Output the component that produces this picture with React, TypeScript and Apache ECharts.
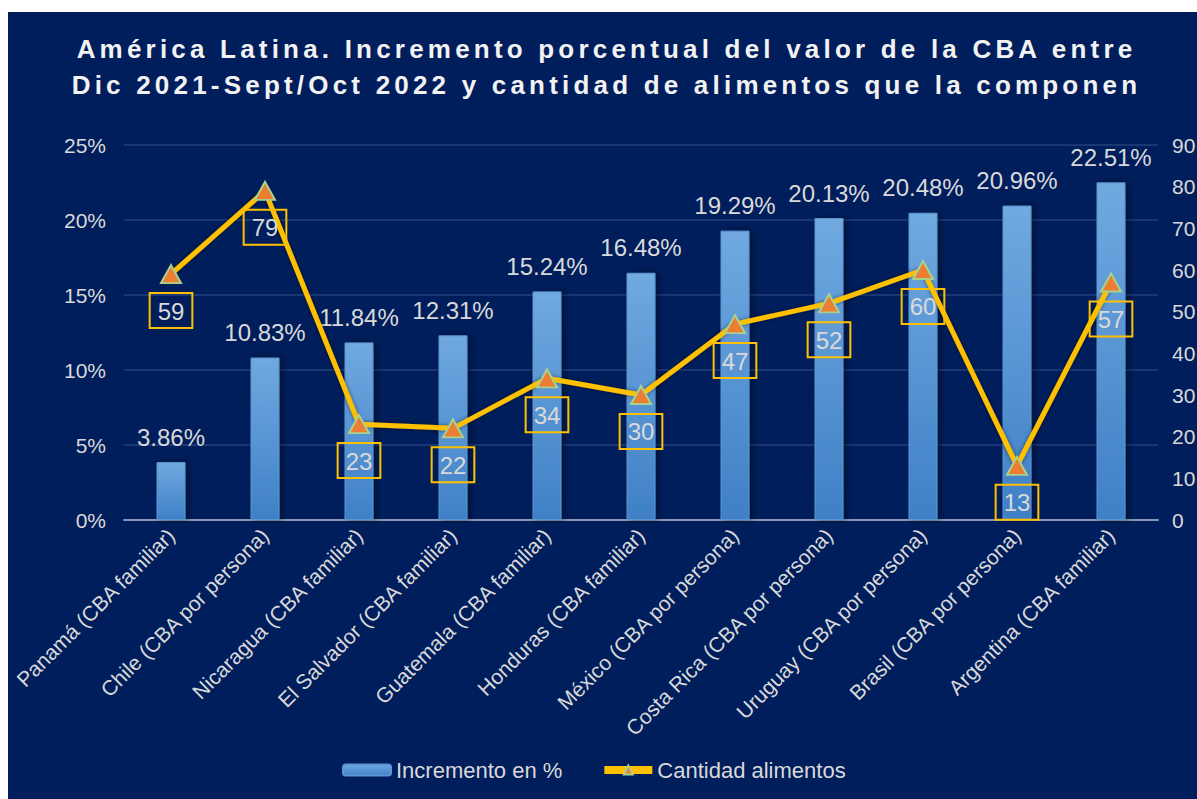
import React, { useEffect, useRef } from "react";
import * as echarts from "echarts";

const categories = [
  "Panamá (CBA familiar)",
  "Chile (CBA por persona)",
  "Nicaragua (CBA familiar)",
  "El Salvador (CBA familiar)",
  "Guatemala (CBA familiar)",
  "Honduras (CBA familiar)",
  "México (CBA por persona)",
  "Costa Rica (CBA por persona)",
  "Uruguay (CBA por persona)",
  "Brasil (CBA por persona)",
  "Argentina (CBA familiar)",
];
const incremento = [3.86, 10.83, 11.84, 12.31, 15.24, 16.48, 19.29, 20.13, 20.48, 20.96, 22.51];
const cantidad = [59, 79, 23, 22, 34, 30, 47, 52, 60, 13, 57];
const titleLines = [
  "América Latina. Incremento porcentual del valor de la CBA entre",
  "Dic 2021-Sept/Oct 2022 y cantidad de alimentos que la componen",
];
const seriesNames = ["Incremento en %", "Cantidad alimentos"];

const TXT = "#d9d9d9";
const FONT = "Liberation Sans, Arial, sans-serif";

export default function App() {
  const ref = useRef<HTMLDivElement>(null);
  useEffect(() => {
    document.body.style.margin = "0";
    const chart = echarts.init(ref.current!, undefined, { renderer: "svg" });
    chart.setOption({
      animation: false,
      backgroundColor: "#001e5c",
      title: {
        text: titleLines.join("\n"),
        left: "center",
        top: 14,
        textStyle: {
          color: "#f2f2f2",
          fontFamily: FONT,
          fontWeight: "bold",
          fontSize: 26,
          lineHeight: 36,
        },
      },
      legend: {
        top: 742,
        left: 329,
        itemWidth: 48,
        itemHeight: 11,
        itemGap: 38,
        textStyle: { color: TXT, fontSize: 22, fontFamily: FONT },
        data: [
          { name: seriesNames[0] },
          { name: seriesNames[1], lineStyle: { width: 8, color: "#ffc000" } },
        ],
      },
      grid: {
        left: 116,
        right: 39,
        top: 133,
        bottom: 279,
        containLabel: false,
        outerBoundsMode: "none",
      },
      xAxis: {
        type: "category",
        data: categories,
        axisTick: { show: false },
        axisLine: { lineStyle: { color: "#8a98b4", width: 2 } },
        axisLabel: {
          interval: 0,
          rotate: 45,
          color: TXT,
          fontSize: 21,
          fontFamily: FONT,
          margin: 12,
        },
      },
      yAxis: [
        {
          type: "value",
          min: 0,
          max: 25,
          interval: 5,
          axisLabel: { formatter: "{value}%", color: TXT, fontSize: 21, fontFamily: FONT, margin: 18 },
          splitLine: { lineStyle: { color: "#22407a", width: 1.5 } },
          axisLine: { show: false },
          axisTick: { show: false },
        },
        {
          type: "value",
          min: 0,
          max: 90,
          interval: 10,
          axisLabel: { color: TXT, fontSize: 21, fontFamily: FONT, margin: 14 },
          splitLine: { show: false },
          axisLine: { show: false },
          axisTick: { show: false },
        },
      ],
      series: [
        {
          name: seriesNames[0],
          type: "bar",
          data: incremento,
          barWidth: 29,
          yAxisIndex: 0,
          itemStyle: {
            color: new echarts.graphic.LinearGradient(0, 0, 0, 1, [
              { offset: 0, color: "#70a9e0" },
              { offset: 1, color: "#3f80c6" },
            ]),
            borderColor: "#5b95d2",
            borderWidth: 1,
            shadowBlur: 6,
            shadowOffsetX: 3,
            shadowColor: "rgba(0,0,0,0.45)",
          },
          label: {
            show: true,
            position: "top",
            distance: 13,
            color: TXT,
            fontSize: 24,
            fontFamily: FONT,
            formatter: (p: any) => p.value.toFixed(2) + "%",
          },
        },
        {
          name: seriesNames[1],
          type: "line",
          data: cantidad,
          yAxisIndex: 1,
          symbol: "triangle",
          symbolSize: [20, 18],
          lineStyle: {
            color: "#ffc000",
            width: 5,
            shadowBlur: 4,
            shadowColor: "rgba(0,0,0,0.5)",
          },
          itemStyle: { color: "#ed7d31", borderColor: "#a9d18e", borderWidth: 2 },
          label: {
            show: true,
            position: "bottom",
            distance: 9,
            color: TXT,
            fontSize: 24,
            fontFamily: FONT,
            borderColor: "#ffc000",
            borderWidth: 2,
            padding: [6, 8, 5, 8],
          },
          z: 5,
        },
      ],
    });
    const spaceTitle = () => {
      const el = ref.current;
      if (!el) return;
      el.querySelectorAll("text").forEach((t) => {
        const s = (t.textContent || "").trim();
        if (titleLines.includes(s)) {
          (t as SVGTextElement).style.letterSpacing = "4.2px";
          t.setAttribute("dx", "4");
        }
      });
    };
    spaceTitle();
    chart.on("rendered", spaceTitle);
    const tm = setTimeout(spaceTitle, 0);
    return () => {
      clearTimeout(tm);
      chart.dispose();
    };
  }, []);
  return (
    <div
      ref={ref}
      style={{ position: "fixed", left: 8, top: 12, width: 1189, height: 787 }}
    />
  );
}
